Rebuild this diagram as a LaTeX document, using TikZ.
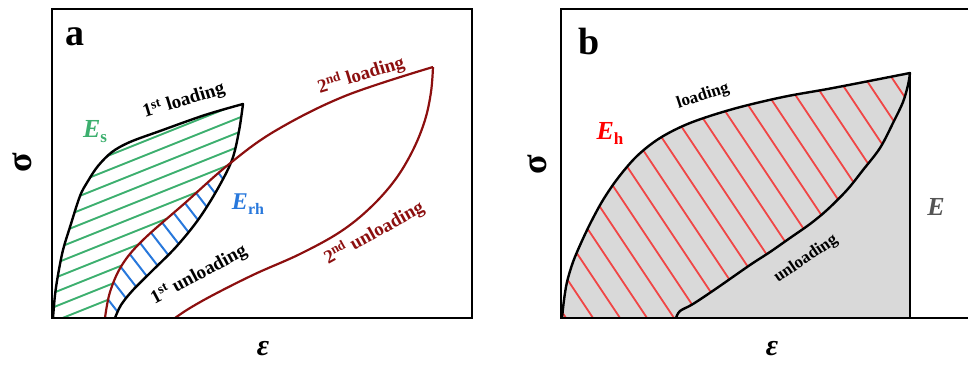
\documentclass[tikz,border=0pt]{standalone}
\usepackage{fontspec}
\setmainfont{Liberation Serif}
\definecolor{hgreen}{RGB}{60,175,110}
\definecolor{hblue}{RGB}{40,120,220}
\definecolor{dred}{RGB}{140,15,15}
\definecolor{hred}{RGB}{240,70,70}
\definecolor{egrey}{RGB}{85,85,85}
\definecolor{fillgrey}{RGB}{217,217,217}
\newcommand\LoneP{plot[smooth,tension=0.55] coordinates{(53,318) (55,295) (58,275) (63,250) (70,227) (80,196) (88,181) (98,166) (112,152) (130,142) (160,131) (205,115) (243,104)}}
\newcommand\UoneP{-- plot[smooth,tension=0.55] coordinates{(243,104) (239,131) (232,160) (217,190) (198,220) (176,247) (152,271) (133,290) (121,305) (115,318)}}
\newcommand\RoneP{plot[smooth,tension=0.6] coordinates{(105,318) (110,292) (122,265) (143,240) (185,203) (228,165) (275,131) (345,96) (433,67)}}
\newcommand\RtwoP{plot[smooth,tension=0.6] coordinates{(433,67) (431,92) (425,120) (413,150) (395,180) (370,208) (340,232) (300,254) (255,274) (215,294) (190,308) (175,318)}}
\newcommand\LbP{plot[smooth,tension=0.55] coordinates{(562,318) (564,300) (567,282) (573,262) (581,243) (591,222) (603,200) (618,178) (637,156) (660,138) (690,123) (733,109) (783,97) (833,88) (910,73)}}
\newcommand\UbP{-- plot[smooth,tension=0.55] coordinates{(910,73) (908,85) (903,102) (893,123) (880,148) (863,170) (847,190) (827,210) (810,224) (790,238) (770,252) (750,265) (717,288) (693,304) (680,311) (676,318)}}
\tikzset{
  curve/.style={line width=2.4pt, line join=round},
  boxline/.style={line width=2pt},
  ghatch/.style={hgreen, line width=1.9pt},
  bhatch/.style={hblue, line width=2pt},
  rhatch/.style={hred, line width=1.8pt},
  lbl/.style={font=\fontsize{19}{19}\selectfont\bfseries, inner sep=0pt},
  lblb/.style={font=\fontsize{17}{17}\selectfont\bfseries, inner sep=0pt},
  big/.style={font=\fontsize{38}{38}\selectfont\bfseries, inner sep=0pt},
  axis/.style={inner sep=0pt},
}
\begin{document}
\begin{tikzpicture}[x=1pt,y=-1pt]
\useasboundingbox (0,0) rectangle (968,364);
% ---------- panel a ----------
\begin{scope}
  \clip \LoneP \UoneP -- cycle;
  \begin{scope}
    \clip \RoneP -- (433,0) -- (0,0) -- (0,318) -- cycle;
    \foreach \k in {0,...,11}{
      \pgfmathsetmacro\yo{319-14.4*\k}
      \draw[ghatch] (40,\yo+8) -- (260,\yo-80);
    }
  \end{scope}
  \begin{scope}
    \clip \RoneP -- (480,67) -- (480,330) -- (105,330) -- cycle;
    \foreach \k in {0,...,13}{
      \pgfmathsetmacro\s{15+15*\k}
      \draw[bhatch] ({105+0.79*\s-61},{320-0.61*\s-79}) -- ({105+0.79*\s+61},{320-0.61*\s+79});
    }
  \end{scope}
\end{scope}
\draw[curve] \LoneP \UoneP;
\draw[curve,dred,line width=2.2pt] \RoneP;
\draw[curve,dred,line width=2.2pt] \RtwoP;
\draw[boxline] (52,9) rectangle (472,318);
\node[big] (la) at (75,37) {a};
\node[axis,rotate=90,font=\fontsize{36}{36}\selectfont\bfseries] (siga) at (22,163) {σ};
\node[axis,font=\fontsize{30}{30}\selectfont\bfseries\itshape] (epsa) at (263,349) {ε};
\node[lbl,rotate=17] (l1) at (184,101) {1\textsuperscript{st} loading};
\node[lbl,rotate=17,text=dred] (l2) at (361,75) {2\textsuperscript{nd} loading};
\node[lbl,rotate=28] (u1) at (199,275) {1\textsuperscript{st} unloading};
\node[lbl,rotate=29,text=dred] (u2) at (374,233) {2\textsuperscript{nd} unloading};
\node[axis,text=hgreen] (Es) at (95,132) {\fontsize{26}{26}\selectfont\bfseries\itshape E\upshape\raisebox{-5pt}{\fontsize{17}{17}\selectfont s}};
\node[axis,text=hblue] (Erh) at (248,204) {\fontsize{24}{24}\selectfont\bfseries\itshape E\upshape\raisebox{-5pt}{\fontsize{16}{16}\selectfont rh}};
% ---------- panel b ----------
\fill[fillgrey] \LbP -- (910,318) -- cycle;
\begin{scope}
  \clip \LbP \UbP -- cycle;
  \foreach \k in {-1,...,18}{
    \pgfmathsetmacro\xa{593+27*\k}
    \draw[rhatch] (\xa+10,333) -- (\xa-210,3);
  }
\end{scope}
\draw[curve] \LbP \UbP;
\draw[curve] (910,73) -- (910,318);
\draw[boxline] (968,9) -- (561,9) -- (561,318) -- (968,318);
\node[big] (lb) at (589,42) {b};
\node[axis,rotate=90,font=\fontsize{36}{36}\selectfont\bfseries] (sigb) at (537,165) {σ};
\node[axis,font=\fontsize{30}{30}\selectfont\bfseries\itshape] (epsb) at (772,349) {ε};
\node[lblb,rotate=18] (lb1) at (703,96) {loading};
\node[lblb,rotate=34] (ub1) at (806,259) {unloading};
\node[axis,text=red] (Eh) at (610,133) {\fontsize{26}{26}\selectfont\bfseries\itshape E\upshape\raisebox{-5pt}{\fontsize{17}{17}\selectfont h}};
\node[axis,text=egrey,font=\fontsize{26}{26}\selectfont\bfseries\itshape] (E) at (936,207) {E};
\end{tikzpicture}
\end{document}
